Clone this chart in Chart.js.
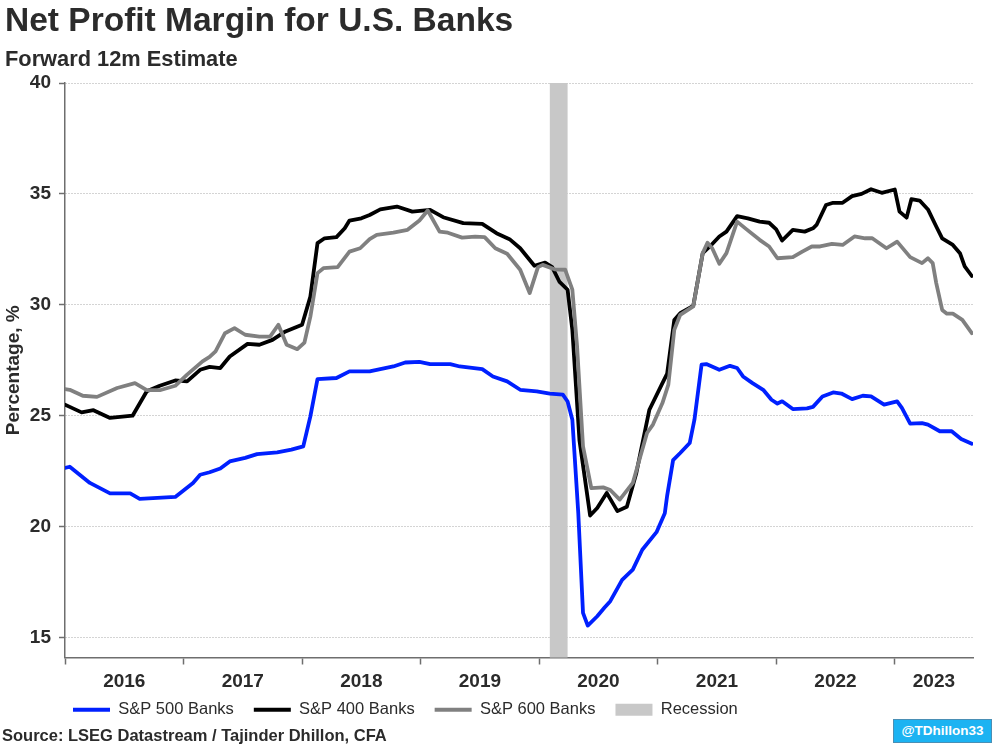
<!DOCTYPE html>
<html>
<head>
<meta charset="utf-8">
<title>Net Profit Margin for U.S. Banks</title>
<script src="https://cdn.jsdelivr.net/npm/chart.js@4.4.0/dist/chart.umd.min.js"></script>
<style>
  body { margin: 0; background: #fff; font-family: 'Liberation Sans', Arial, sans-serif; color: #2b2b2b; }
  #wrap { position: relative; width: 995px; height: 744px; overflow: hidden; }
  #chartBox { position: absolute; left: 0; top: 0; width: 995px; height: 744px; }
  .title { position: absolute; left: 5px; top: 3px; font-size: 33.5px; font-weight: bold; line-height: 1; white-space: nowrap; }
  .subtitle { position: absolute; left: 5px; top: 48px; font-size: 21.8px; font-weight: bold; line-height: 1; white-space: nowrap; }
  .source { position: absolute; left: 2px; top: 727px; font-size: 16.5px; font-weight: bold; line-height: 1; white-space: nowrap; }
  .badge { position: absolute; left: 893px; top: 719px; width: 97px; height: 22px; background: #1cb3f2; border: 1px solid #4a8fb5;
           color: #fff; font-size: 13.5px; font-weight: bold; line-height: 22px; text-align: center; }
</style>
</head>
<body>
<div id="wrap">
  <div id="chartBox"><canvas id="chart"></canvas></div>
  <div class="title">Net Profit Margin for U.S. Banks</div>
  <div class="subtitle">Forward 12m Estimate</div>
  <div class="source">Source: LSEG Datastream / Tajinder Dhillon, CFA</div>
  <div class="badge">@TDhillon33</div>
</div>
<script>
// dates are decimal years
var sp500Dates = [2016.00, 2016.04, 2016.21, 2016.38, 2016.55, 2016.63, 2016.93, 2017.08, 2017.14, 2017.22,
  2017.31, 2017.39, 2017.52, 2017.62, 2017.79, 2017.91, 2018.01, 2018.07, 2018.13, 2018.29,
  2018.40, 2018.57, 2018.77, 2018.87, 2018.99, 2019.08, 2019.25, 2019.33, 2019.52, 2019.61,
  2019.73, 2019.84, 2019.98, 2020.09, 2020.20, 2020.24, 2020.28, 2020.33, 2020.37, 2020.41,
  2020.49, 2020.55, 2020.60, 2020.70, 2020.79, 2020.87, 2020.99, 2021.06, 2021.08, 2021.13,
  2021.19, 2021.27, 2021.31, 2021.37, 2021.41, 2021.52, 2021.61, 2021.67, 2021.72, 2021.80,
  2021.89, 2021.96, 2022.01, 2022.05, 2022.14, 2022.26, 2022.31, 2022.39, 2022.48, 2022.55,
  2022.64, 2022.73, 2022.80, 2022.91, 2023.02, 2023.06, 2023.13, 2023.23, 2023.28, 2023.38,
  2023.48, 2023.56, 2023.65];
var sp500Values = [22.65, 22.7, 21.97, 21.5, 21.5, 21.25, 21.34, 21.97, 22.34, 22.45,
  22.62, 22.94, 23.1, 23.27, 23.35, 23.47, 23.62, 24.97, 26.65, 26.7,
  27.0, 27.0, 27.22, 27.4, 27.43, 27.33, 27.33, 27.22, 27.1, 26.77,
  26.55, 26.17, 26.1, 26.0, 25.95, 25.64, 24.82, 20.62, 16.11, 15.54,
  15.96, 16.34, 16.64, 17.6, 18.06, 18.96, 19.75, 20.6, 21.4, 23.0,
  23.32, 23.77, 24.82, 27.3, 27.33, 27.07, 27.25, 27.15, 26.77, 26.47,
  26.17, 25.72, 25.55, 25.65, 25.3, 25.33, 25.4, 25.87, 26.05, 26.0,
  25.75, 25.9, 25.87, 25.5, 25.65, 25.35, 24.64, 24.67, 24.6, 24.3,
  24.3, 23.95, 23.74];

var sp400Dates = [2016.00, 2016.04, 2016.14, 2016.24, 2016.38, 2016.57, 2016.69, 2016.80, 2016.93, 2017.03,
  2017.14, 2017.22, 2017.31, 2017.39, 2017.54, 2017.64, 2017.75, 2017.86, 2018.00, 2018.07,
  2018.13, 2018.19, 2018.29, 2018.36, 2018.40, 2018.50, 2018.57, 2018.66, 2018.80, 2018.93,
  2019.08, 2019.19, 2019.36, 2019.52, 2019.64, 2019.75, 2019.84, 2019.96, 2020.05, 2020.11,
  2020.17, 2020.24, 2020.28, 2020.34, 2020.43, 2020.49, 2020.57, 2020.66, 2020.74, 2020.82,
  2020.93, 2021.04, 2021.08, 2021.14, 2021.19, 2021.30, 2021.38, 2021.44, 2021.52, 2021.58,
  2021.67, 2021.76, 2021.86, 2021.94, 2022.00, 2022.05, 2022.14, 2022.24, 2022.31, 2022.34,
  2022.42, 2022.48, 2022.56, 2022.64, 2022.72, 2022.80, 2022.89, 2023.00, 2023.04, 2023.10,
  2023.14, 2023.21, 2023.28, 2023.35, 2023.40, 2023.49, 2023.55, 2023.59, 2023.65];
var sp400Values = [25.5, 25.4, 25.15, 25.25, 24.9, 25.0, 26.1, 26.35, 26.59, 26.55,
  27.07, 27.2, 27.15, 27.67, 28.24, 28.2, 28.42, 28.8, 29.1, 30.37,
  32.78, 33.0, 33.05, 33.45, 33.8, 33.9, 34.05, 34.3, 34.43, 34.2,
  34.28, 33.95, 33.68, 33.65, 33.23, 32.96, 32.55, 31.76, 31.9, 31.7,
  31.05, 30.68, 28.87, 23.9, 20.5, 20.84, 21.52, 20.7, 20.9, 22.42,
  25.27, 26.47, 26.9, 29.32, 29.62, 29.95, 32.33, 32.63, 33.08, 33.3,
  34.0, 33.9, 33.75, 33.7, 33.4, 32.9, 33.38, 33.3, 33.45, 33.6,
  34.5, 34.6, 34.6, 34.9, 35.0, 35.21, 35.05, 35.2, 34.2, 33.93,
  34.76, 34.7, 34.3, 33.53, 33.0, 32.7, 32.33, 31.73, 31.3];

var sp600Dates = [2016.00, 2016.04, 2016.15, 2016.27, 2016.44, 2016.59, 2016.69, 2016.80, 2016.93, 2017.03,
  2017.16, 2017.22, 2017.27, 2017.35, 2017.43, 2017.52, 2017.64, 2017.73, 2017.80, 2017.87,
  2017.96, 2018.02, 2018.07, 2018.13, 2018.18, 2018.30, 2018.40, 2018.49, 2018.57, 2018.63,
  2018.77, 2018.89, 2018.99, 2019.06, 2019.16, 2019.23, 2019.35, 2019.46, 2019.54, 2019.63,
  2019.73, 2019.84, 2019.92, 2019.99, 2020.03, 2020.13, 2020.22, 2020.28, 2020.32, 2020.37,
  2020.44, 2020.54, 2020.60, 2020.68, 2020.79, 2020.91, 2020.96, 2021.04, 2021.09, 2021.14,
  2021.19, 2021.30, 2021.38, 2021.42, 2021.46, 2021.52, 2021.58, 2021.67, 2021.75, 2021.86,
  2021.94, 2022.01, 2022.14, 2022.22, 2022.30, 2022.37, 2022.47, 2022.56, 2022.66, 2022.75,
  2022.81, 2022.93, 2023.02, 2023.13, 2023.23, 2023.28, 2023.32, 2023.35, 2023.40, 2023.44,
  2023.49, 2023.57, 2023.65];
var sp600Values = [26.2, 26.17, 25.9, 25.85, 26.25, 26.47, 26.15, 26.15, 26.35, 26.85,
  27.45, 27.65, 27.9, 28.72, 28.95, 28.65, 28.57, 28.57, 29.1, 28.2,
  28.0, 28.3, 29.47, 31.43, 31.65, 31.7, 32.4, 32.55, 32.96, 33.15,
  33.25, 33.38, 33.8, 34.25, 33.3, 33.25, 33.03, 33.07, 33.05, 32.55,
  32.3, 31.58, 30.53, 31.7, 31.8, 31.6, 31.58, 30.68, 28.12, 23.62,
  21.74, 21.77, 21.65, 21.22, 21.97, 24.22, 24.6, 25.57, 26.4, 28.87,
  29.55, 29.93, 32.33, 32.8, 32.55, 31.85, 32.33, 33.75, 33.4, 32.93,
  32.63, 32.1, 32.15, 32.4, 32.63, 32.63, 32.75, 32.7, 33.08, 33.0,
  33.0, 32.55, 32.85, 32.15, 31.88, 32.1, 31.88, 30.98, 29.77, 29.6,
  29.6, 29.32, 28.72];

var years = [2016, 2017, 2018, 2019, 2020, 2021, 2022, 2023];
var xMin = 2016, xMax = 2023.66;
var yTicks = [15, 20, 25, 30, 35, 40];
var recessionStart = 2020.09, recessionEnd = 2020.24;

var textColor = '#2b2b2b';
var axisColor = '#6e6e6e';
var fontFamily = "'Liberation Sans', Arial, sans-serif";

function toPoints(xs, ys) {
  return xs.map(function (x, i) { return { x: x, y: ys[i] }; });
}

// grey band behind the lines
var recessionBand = {
  id: 'recessionBand',
  beforeDatasetsDraw: function (chart) {
    var area = chart.chartArea, xs = chart.scales.x, ctx = chart.ctx;
    var x0 = xs.getPixelForValue(recessionStart);
    var x1 = xs.getPixelForValue(recessionEnd);
    ctx.save();
    ctx.fillStyle = '#c8c8c8';
    ctx.fillRect(x0, area.top, x1 - x0, area.bottom - area.top);
    ctx.restore();
  }
};

// legend row starts under the plot and sits a bit closer to the year labels
var legendOffset = {
  id: 'legendOffset',
  afterLayout: function (chart) {
    var lg = chart.legend;
    lg.left += 53;
    lg.top -= 16;
    lg.bottom -= 16;
  }
};

var legendItems = [
  { text: 'S&P 500 Banks', color: '#0020ff', style: 'line' },
  { text: 'S&P 400 Banks', color: '#000000', style: 'line' },
  { text: 'S&P 600 Banks', color: '#808080', style: 'line' },
  { text: 'Recession', color: '#c8c8c8', style: 'rect' }
];

new Chart(document.getElementById('chart'), {
  type: 'line',
  data: {
    datasets: [
      { label: 'S&P 500 Banks', data: toPoints(sp500Dates, sp500Values), borderColor: '#0020ff', order: 2 },
      { label: 'S&P 400 Banks', data: toPoints(sp400Dates, sp400Values), borderColor: '#000000', order: 1 },
      { label: 'S&P 600 Banks', data: toPoints(sp600Dates, sp600Values), borderColor: '#808080', order: 0 }
    ]
  },
  options: {
    responsive: true,
    maintainAspectRatio: false,
    animation: false,
    elements: {
      line: { borderWidth: 3.8, tension: 0, borderJoinStyle: 'round', borderCapStyle: 'round' },
      point: { radius: 0, hoverRadius: 0 }
    },
    layout: { padding: { top: 83, right: 22, bottom: 0, left: 0 } },
    scales: {
      x: {
        type: 'linear',
        min: xMin,
        max: xMax,
        afterBuildTicks: function (scale) {
          var t = [];
          years.forEach(function (y) {
            t.push({ value: y });
            t.push({ value: (y + Math.min(y + 1, xMax)) / 2 });
          });
          scale.ticks = t;
        },
        afterFit: function (scale) { scale.height = 40; },
        grid: {
          drawOnChartArea: false,
          tickLength: 7,
          tickWidth: 1.5,
          tickColor: function (ctx) {
            return ctx.tick && Number.isInteger(ctx.tick.value) ? axisColor : 'rgba(0,0,0,0)';
          }
        },
        border: { display: true, color: axisColor, width: 1.5 },
        ticks: {
          autoSkip: false,
          maxRotation: 0,
          padding: 6,
          color: textColor,
          font: { family: fontFamily, size: 19, weight: 'bold' },
          callback: function (value) {
            return Number.isInteger(value) ? '' : String(Math.floor(value));
          }
        }
      },
      y: {
        min: 14.1,
        max: 40,
        afterBuildTicks: function (scale) {
          scale.ticks = yTicks.map(function (v) { return { value: v }; });
        },
        afterFit: function (scale) { scale.width = 65; },
        grid: {
          color: '#a8a8a8',
          lineWidth: 1,
          tickLength: 6,
          tickColor: axisColor,
          tickWidth: 1.5
        },
        border: { display: true, color: axisColor, width: 1.5, dash: [1, 2] },
        ticks: {
          padding: 8,
          color: textColor,
          font: { family: fontFamily, size: 19, weight: 'bold' }
        },
        title: {
          display: true,
          text: 'Percentage, %',
          color: textColor,
          padding: { top: 2, bottom: 0 },
          font: { family: fontFamily, size: 19, weight: 'bold' }
        }
      }
    },
    plugins: {
      legend: {
        position: 'bottom',
        align: 'start',
        labels: {
          usePointStyle: true,
          pointStyleWidth: 37,
          boxHeight: 12,
          padding: 20,
          color: textColor,
          font: { family: fontFamily, size: 16.5 },
          generateLabels: function () {
            return legendItems.map(function (it, i) {
              return {
                text: it.text,
                fillStyle: it.color,
                strokeStyle: it.color,
                lineWidth: it.style === 'line' ? 4 : 0,
                pointStyle: it.style,
                fontColor: textColor,
                hidden: false,
                datasetIndex: i < 3 ? i : undefined
              };
            });
          }
        }
      },
      tooltip: { enabled: false }
    }
  },
  plugins: [recessionBand, legendOffset]
});
</script>
</body>
</html>
